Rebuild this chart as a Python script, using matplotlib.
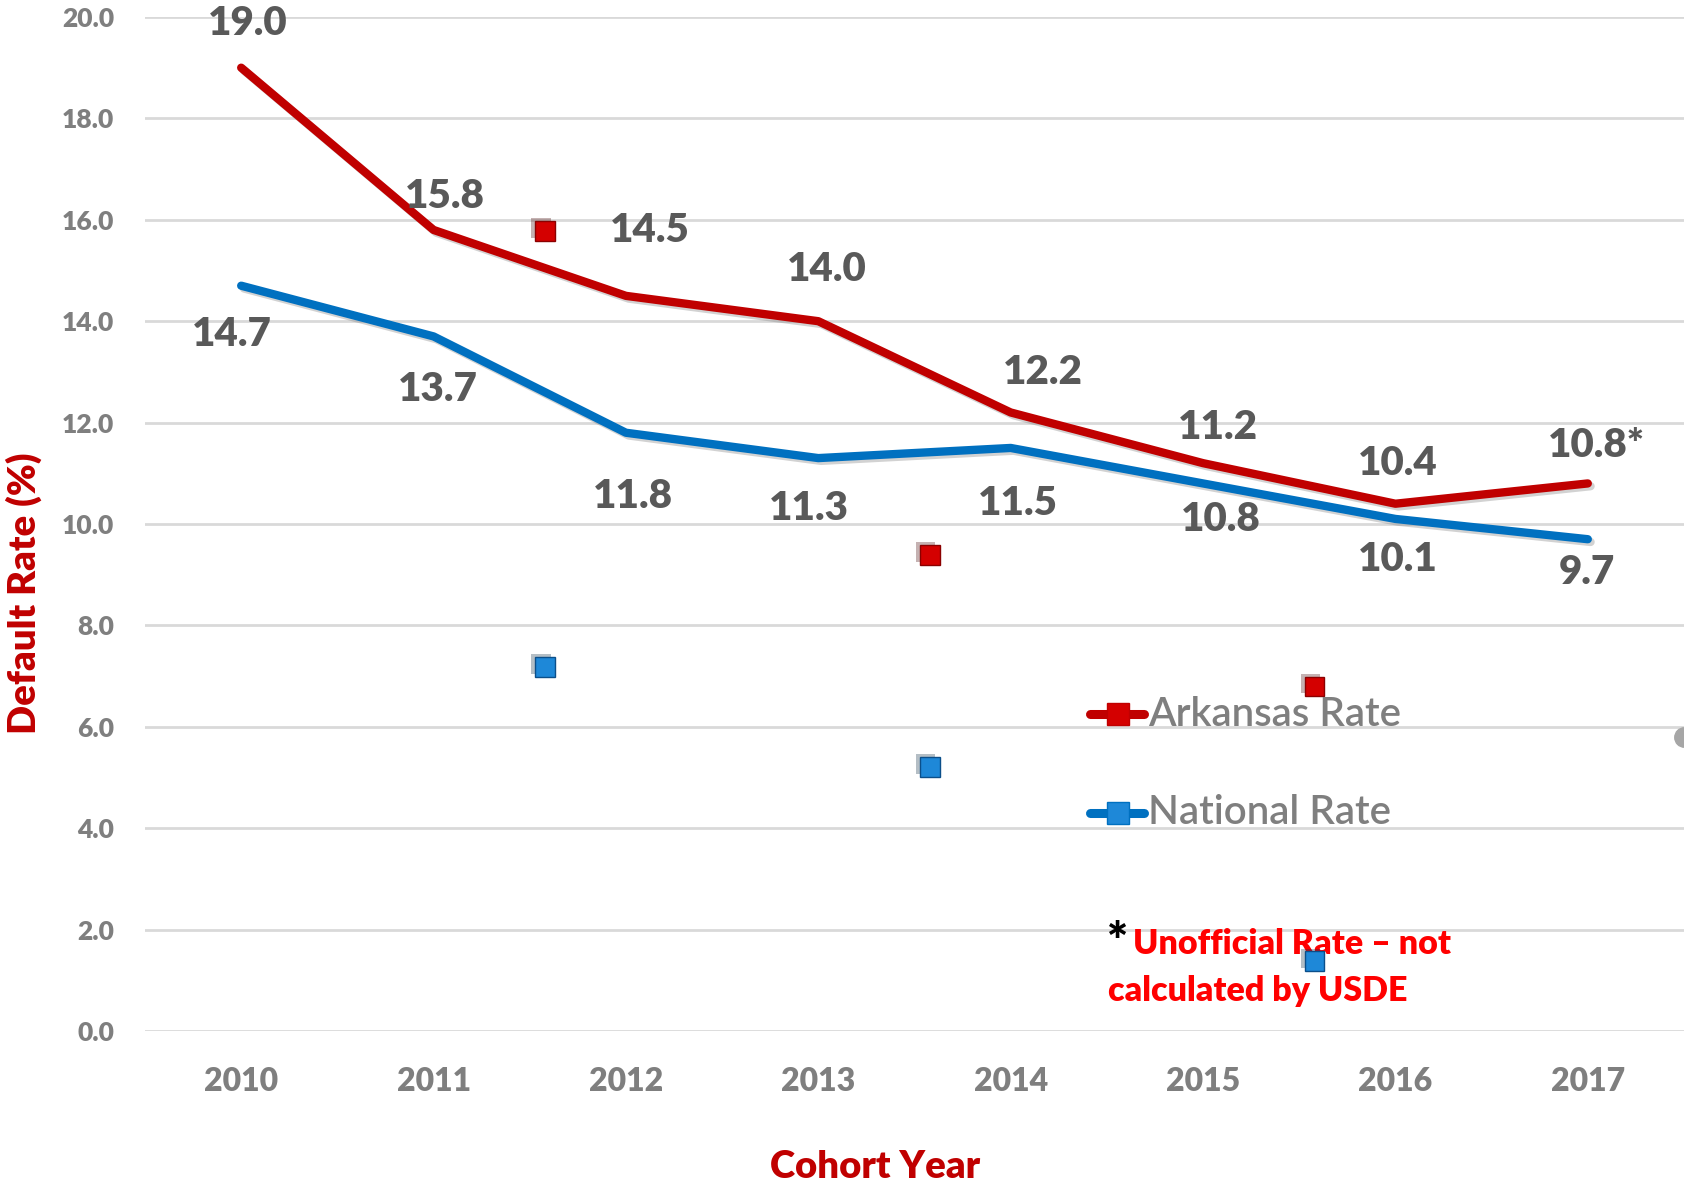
import matplotlib
matplotlib.use("Agg")
import matplotlib.pyplot as plt
import matplotlib.patheffects as pe
from matplotlib.lines import Line2D

# ---------------- data ----------------
years = [2010, 2011, 2012, 2013, 2014, 2015, 2016, 2017]
arkansas = [19.0, 15.8, 14.5, 14.0, 12.2, 11.2, 10.4, 10.8]
national = [14.7, 13.7, 11.8, 11.3, 11.5, 10.8, 10.1, 9.7]
arkansas_labels = ["19.0", "15.8", "14.5", "14.0", "12.2", "11.2", "10.4", "10.8*"]
national_labels = ["14.7", "13.7", "11.8", "11.3", "11.5", "10.8", "10.1", "9.7"]
y_ticks = [0, 2, 4, 6, 8, 10, 12, 14, 16, 18, 20]

# stray marker symbols visible in the picture (x in year units, y in %)
stray_red_x = [2011.58, 2013.58, 2015.58]
stray_red_y = [15.78, 9.39, 6.80]
stray_blue_x = [2011.58, 2013.58, 2015.58]
stray_blue_y = [7.18, 5.21, 1.38]
stray_gray_x = [2017.5]
stray_gray_y = [5.8]

# ---------------- layout (label offsets in points) ----------------
ark_off = [(5, 32), (8, 24), (17, 47), (6, 37), (23, 29), (11, 26), (2, 29), (6, 27)]
nat_off = [(-7, -35), (3, -38), (5, -46), (-7, -36), (5, -40), (13, -26), (2, -29), (-1, -24)]

RED = "#C00000"
BLUE = "#0070C0"
GRAY_TXT = "#7F7F7F"
LBL = "#595959"

plt.rcParams["font.family"] = ["Lato", "DejaVu Sans"]

fig = plt.figure(figsize=(16.84, 11.85), dpi=100)
ax = fig.add_axes([145 / 1684, 1 - 1031 / 1185, 1 - 145 / 1684, (1031 - 17) / 1185])

shadow = [pe.SimpleLineShadow(offset=(2, -2), shadow_color="gray", alpha=0.35), pe.Normal()]
ax.plot(years, arkansas, color=RED, lw=6, solid_capstyle="round",
        solid_joinstyle="round", path_effects=shadow, zorder=3)
ax.plot(years, national, color=BLUE, lw=6, solid_capstyle="round",
        solid_joinstyle="round", path_effects=shadow, zorder=3)

for x, y, t, o in zip(years, arkansas, arkansas_labels, ark_off):
    ax.annotate(t, (x, y), xytext=o, textcoords="offset points", ha="center",
                va="center", fontsize=29, fontweight="heavy", color=LBL, zorder=5)
for x, y, t, o in zip(years, national, national_labels, nat_off):
    ax.annotate(t, (x, y), xytext=o, textcoords="offset points", ha="center",
                va="center", fontsize=29, fontweight="heavy", color=LBL, zorder=5)

mshadow = [pe.SimplePatchShadow(offset=(-3, 2), alpha=0.3), pe.Normal()]
ax.plot(stray_red_x, stray_red_y, ls="none", marker="s", ms=14, mfc="#D40000",
        mec="#8B0000", mew=1, zorder=4, path_effects=mshadow)
ax.plot(stray_blue_x, stray_blue_y, ls="none", marker="s", ms=14, mfc="#1E88D8",
        mec="#0B4F8A", mew=1, zorder=4, path_effects=mshadow)
ax.plot(stray_gray_x, stray_gray_y, ls="none", marker="o", ms=14, mfc="#A6A6A6",
        mec="#A6A6A6", zorder=4, clip_on=False)

ax.set_xlim(2009.5, 2017.5)
ax.set_ylim(0, 20)
ax.set_yticks(y_ticks)
ax.set_yticklabels([f"{v:.1f}" for v in y_ticks])
ax.set_xticks(years)
ax.set_xticklabels([str(y) for y in years])
ax.grid(axis="y", color="#D9D9D9", lw=2)
ax.set_axisbelow(True)
for s in ax.spines.values():
    s.set_visible(False)
ax.tick_params(axis="y", length=0, pad=22, labelsize=19, labelcolor=GRAY_TXT)
ax.tick_params(axis="x", length=0, pad=26, labelsize=23, labelcolor=GRAY_TXT)
for lab in ax.get_yticklabels() + ax.get_xticklabels():
    lab.set_fontweight("heavy")

fig.text(24 / 1684, 1 - 593 / 1185, "Default Rate (%)", rotation=90, ha="center",
         va="center", fontsize=27.5, fontweight="heavy", color=RED)
fig.text(875 / 1684, 1 - 1167 / 1185, "Cohort Year", ha="center", va="center",
         fontsize=27.5, fontweight="heavy", color=RED)

# legend drawn in axes coordinates
for yy, c, mc, name in [(0.3126, RED, "#D40000", "Arkansas Rate"),
                        (0.215, BLUE, "#1E88D8", "National Rate")]:
    ax.add_line(Line2D([0.614, 0.649], [yy, yy], transform=ax.transAxes, color=c,
                       lw=6.5, solid_capstyle="round", clip_on=False, zorder=6))
    ax.add_line(Line2D([0.632], [yy], transform=ax.transAxes, marker="s", ms=16,
                       mfc=mc, mec=c, ls="none", clip_on=False, zorder=7))
    ax.text(0.652, yy, name, transform=ax.transAxes, ha="left", va="center",
            fontsize=29, fontweight="semibold", color=GRAY_TXT, zorder=7)

ax.text(0.632, 0.086, "*", transform=ax.transAxes, ha="center", va="center",
        fontsize=36, fontweight="heavy", color="black")
ax.text(0.642, 0.0855, "Unofficial Rate \u2013 not", transform=ax.transAxes,
        ha="left", va="center", fontsize=24.5, fontweight="heavy", color="#FF0000")
ax.text(0.626, 0.0395, "calculated by USDE", transform=ax.transAxes,
        ha="left", va="center", fontsize=24.5, fontweight="heavy", color="#FF0000")

fig.savefig("out.png", dpi=100)
